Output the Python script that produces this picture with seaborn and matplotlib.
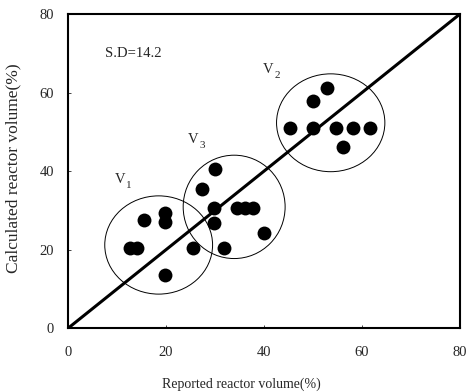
import seaborn as sns
import pandas as pd
import matplotlib.pyplot as plt
from matplotlib.patches import Ellipse

# reported vs calculated reactor volume (%)
reported = [12.7, 14.0, 15.6, 19.8, 19.8, 19.8, 25.6,
            31.9, 29.9, 27.3, 29.8, 29.8, 34.4, 36.1, 37.7, 40.0,
            45.3, 49.9, 49.9, 52.8, 54.7, 58.1, 61.6, 56.1]
calculated = [20.5, 20.5, 27.6, 29.3, 27.1, 13.5, 20.5,
              20.5, 40.5, 35.4, 30.7, 26.9, 30.7, 30.7, 30.7, 24.2,
              50.9, 50.9, 57.8, 61.1, 50.9, 50.9, 50.9, 46.2]

# group circles: name, center x, center y, width, height
groups = ['V_1', 'V_3', 'V_2']
group_cx = [18.5, 33.9, 53.6]
group_cy = [21.2, 30.9, 52.3]
group_w = [22.0, 20.8, 22.1]
group_h = [25.0, 26.3, 24.9]
label_x = [9.6, 24.5, 39.8]
label_y = [37.8, 48.0, 65.8]

ticks = [0, 20, 40, 60, 80]

df = pd.DataFrame({'reported': reported, 'calculated': calculated})

sns.set_style('ticks')
plt.rcParams['font.family'] = ['Liberation Serif', 'DejaVu Serif']

fig = plt.figure(figsize=(4.69, 3.92), dpi=100)
ax = fig.add_axes([0.145, 0.1625, 0.836, 0.802])

# diagonal 1:1 line
ax.plot([0, 80], [0, 80], color='black', lw=2.2, zorder=2)

# scatter points
sns.scatterplot(data=df, x='reported', y='calculated', color='black',
                s=100, edgecolor='black', linewidth=0, ax=ax, zorder=3)

# circles around groups
for name, cx, cy, w, h, lx, ly in zip(groups, group_cx, group_cy, group_w, group_h, label_x, label_y):
    ax.add_patch(Ellipse((cx, cy), w, h, fill=False, edgecolor='black', lw=0.7, zorder=1))
    base, sub = name.split('_')
    ax.text(lx, ly, base, fontsize=10.5, ha='left', va='center')
    ax.text(lx + 2.3, ly - 1.5, sub, fontsize=8, ha='left', va='center')

ax.text(7.6, 70, 'S.D=14.2', fontsize=10.5, ha='left', va='center')

ax.set_xlim(0, 80)
ax.set_ylim(0, 80)
ax.set_xticks(ticks)
ax.set_yticks(ticks)
ax.tick_params(direction='in', length=2, width=0.6, labelsize=10.5)
ax.tick_params(axis='x', pad=13)
ax.tick_params(axis='y', pad=10)
for sp in ax.spines.values():
    sp.set_linewidth(1.5)
    sp.set_color('black')

ax.set_xlabel('Reported reactor volume(%)', fontsize=10)
ax.set_ylabel('Calculated reactor volume(%)', fontsize=12.5)
ax.xaxis.set_label_coords(0.441, -0.155)
ax.yaxis.set_label_coords(-0.118, 0.51)

plt.savefig('out.png', dpi=100)
